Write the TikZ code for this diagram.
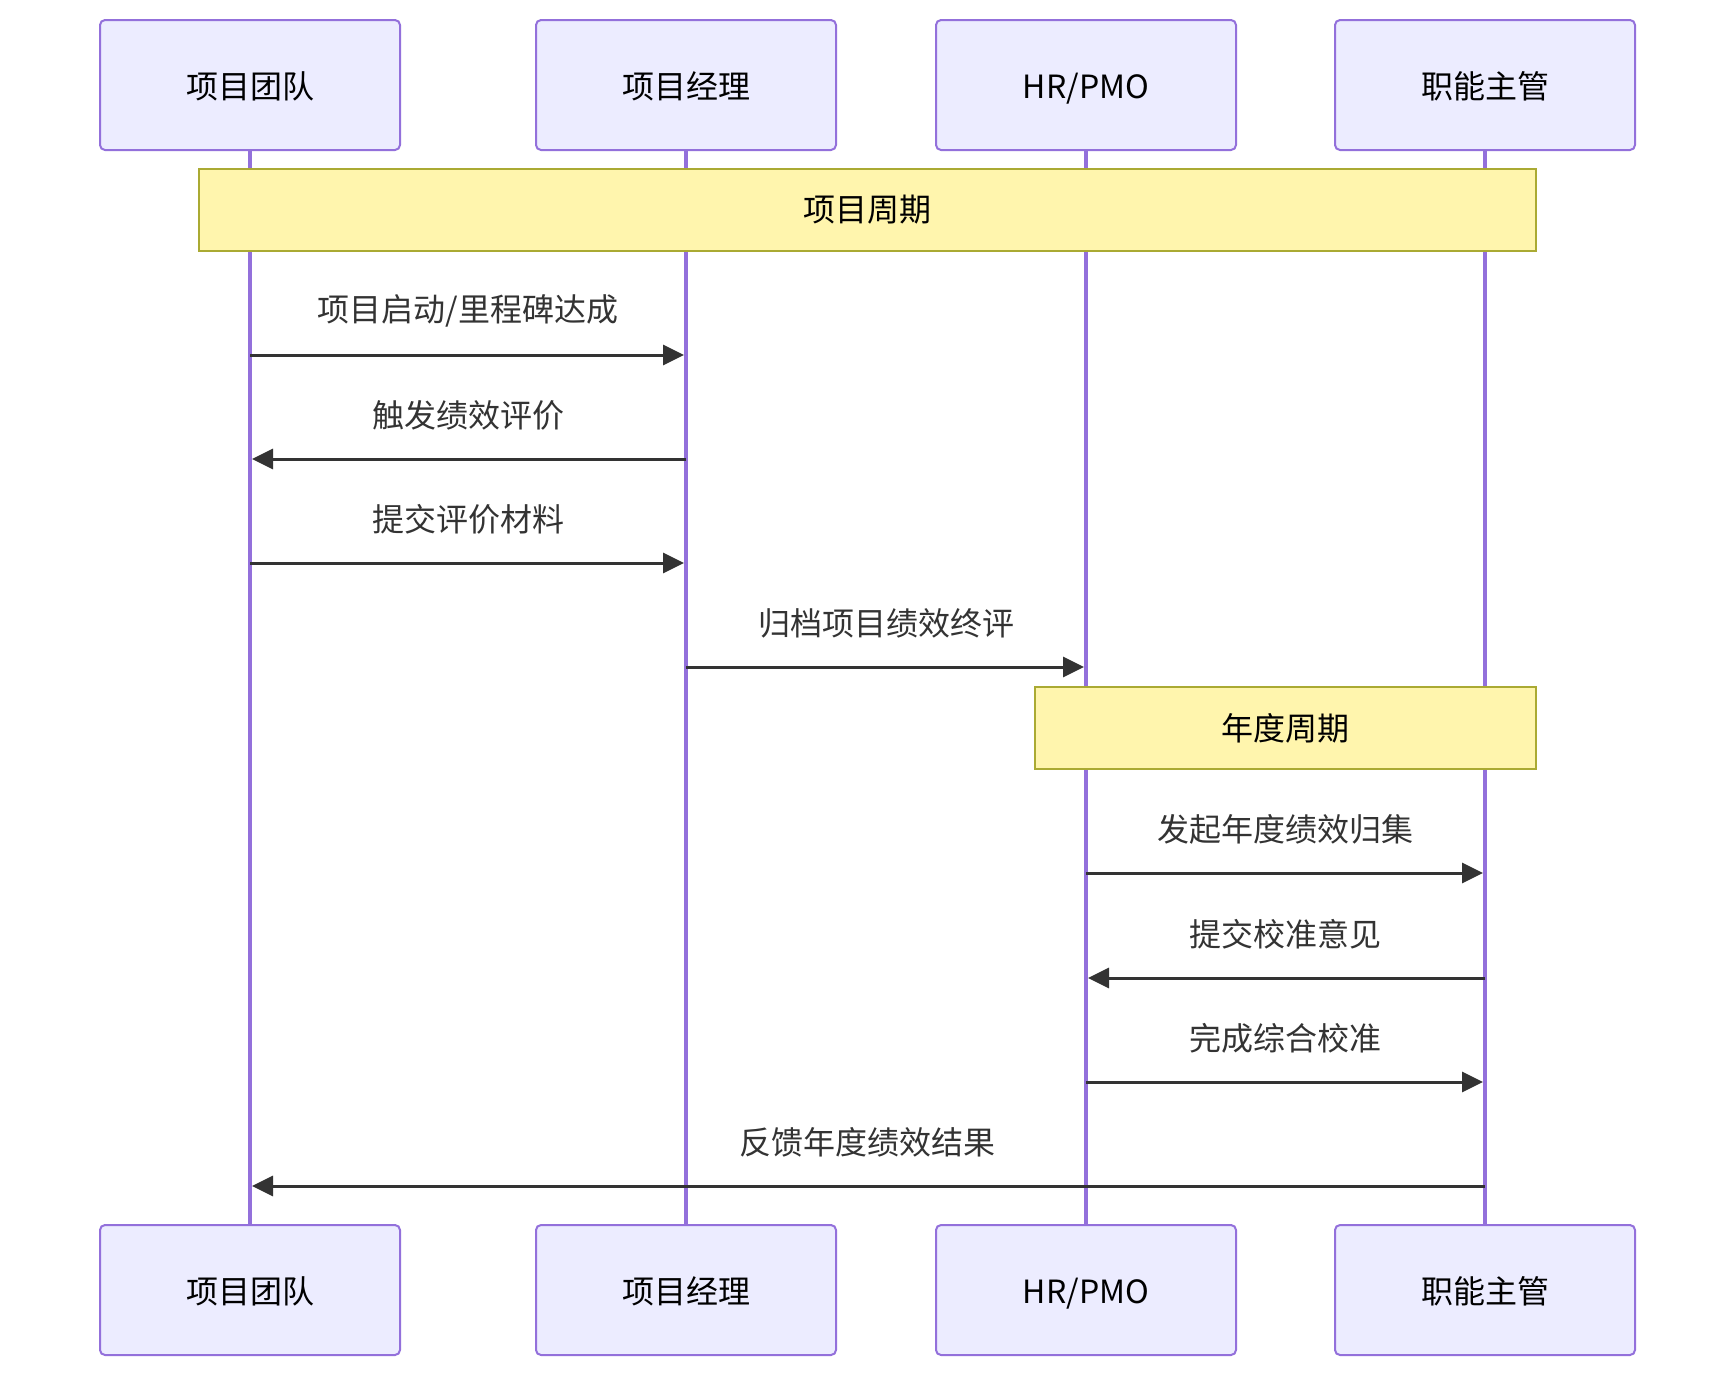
\documentclass[tikz,border=0pt]{standalone}
\usepackage{fontspec}
\setmainfont{Noto Sans CJK SC}
\usepackage{tikz}
\usepackage{xcolor}
\usetikzlibrary{arrows.meta}
\definecolor{actorfill}{HTML}{ECECFF}
\definecolor{actorline}{HTML}{9370DB}
\definecolor{notefill}{HTML}{FFF5AD}
\definecolor{noteline}{HTML}{AAAA33}
\definecolor{msgcolor}{HTML}{333333}

\begin{document}
\begin{tikzpicture}[
      x=0.5pt,y=-0.5pt,
      actor/.style={rectangle,rounded corners=2.5pt,draw=actorline,fill=actorfill,line width=1pt,minimum width=150pt,minimum height=65pt,text height=14.5pt,text depth=1.5pt,font=\fontsize{16}{19}\selectfont},
      lifeline/.style={draw=actorline,line width=2pt},
      notebox/.style={rectangle,draw=noteline,fill=notefill,line width=1pt,minimum height=41pt,font=\fontsize{16}{19}\selectfont},
      msg/.style={-{Triangle[length=10.5pt,width=10pt]},draw=msgcolor,line width=1.5pt,shorten >=1pt},
      msglabel/.style={text=msgcolor,font=\fontsize{16}{19}\selectfont,yshift=22pt}
    ]
    \useasboundingbox (0,0) rectangle (1736,1378);
    % participants
    \node[actor] (team) at (250,85) {项目团队};
    \node[actor] (pm) at (686,85) {项目经理};
    \node[actor] (hr) at (1086,85) {HR/PMO};
    \node[actor] (head) at (1485,85) {职能主管};
    \node[actor] (teamb) at (250,1290) {项目团队};
    \node[actor] (pmb) at (686,1290) {项目经理};
    \node[actor] (hrb) at (1086,1290) {HR/PMO};
    \node[actor] (headb) at (1485,1290) {职能主管};
    \draw[lifeline] (team) -- (teamb);
    \draw[lifeline] (pm) -- (pmb);
    \draw[lifeline] (hr) -- (hrb);
    \draw[lifeline] (head) -- (headb);
    % notes
    \node[notebox,minimum width=668.5pt] (n1) at (867.5,210) {项目周期};
    \node[notebox,minimum width=250.5pt] (n2) at (1285.5,728) {年度周期};
    % message rows
    \coordinate (m1) at (0,355);
    \coordinate (m2) at (0,459);
    \coordinate (m3) at (0,563);
    \coordinate (m4) at (0,667);
    \coordinate (m5) at (0,873);
    \coordinate (m6) at (0,978);
    \coordinate (m7) at (0,1082);
    \coordinate (m8) at (0,1186);
    \draw[msg] (team |- m1) -- (pm |- m1) node[msglabel,midway] (l1) {项目启动/里程碑达成};
    \draw[msg] (pm |- m2) -- (team |- m2) node[msglabel,midway] (l2) {触发绩效评价};
    \draw[msg] (team |- m3) -- (pm |- m3) node[msglabel,midway] (l3) {提交评价材料};
    \draw[msg] (pm |- m4) -- (hr |- m4) node[msglabel,midway] (l4) {归档项目绩效终评};
    \draw[msg] (hr |- m5) -- (head |- m5) node[msglabel,midway] (l5) {发起年度绩效归集};
    \draw[msg] (head |- m6) -- (hr |- m6) node[msglabel,midway] (l6) {提交校准意见};
    \draw[msg] (hr |- m7) -- (head |- m7) node[msglabel,midway] (l7) {完成综合校准};
    \draw[msg] (head |- m8) -- (team |- m8) node[msglabel,midway] (l8) {反馈年度绩效结果};
  \end{tikzpicture}
\end{document}
